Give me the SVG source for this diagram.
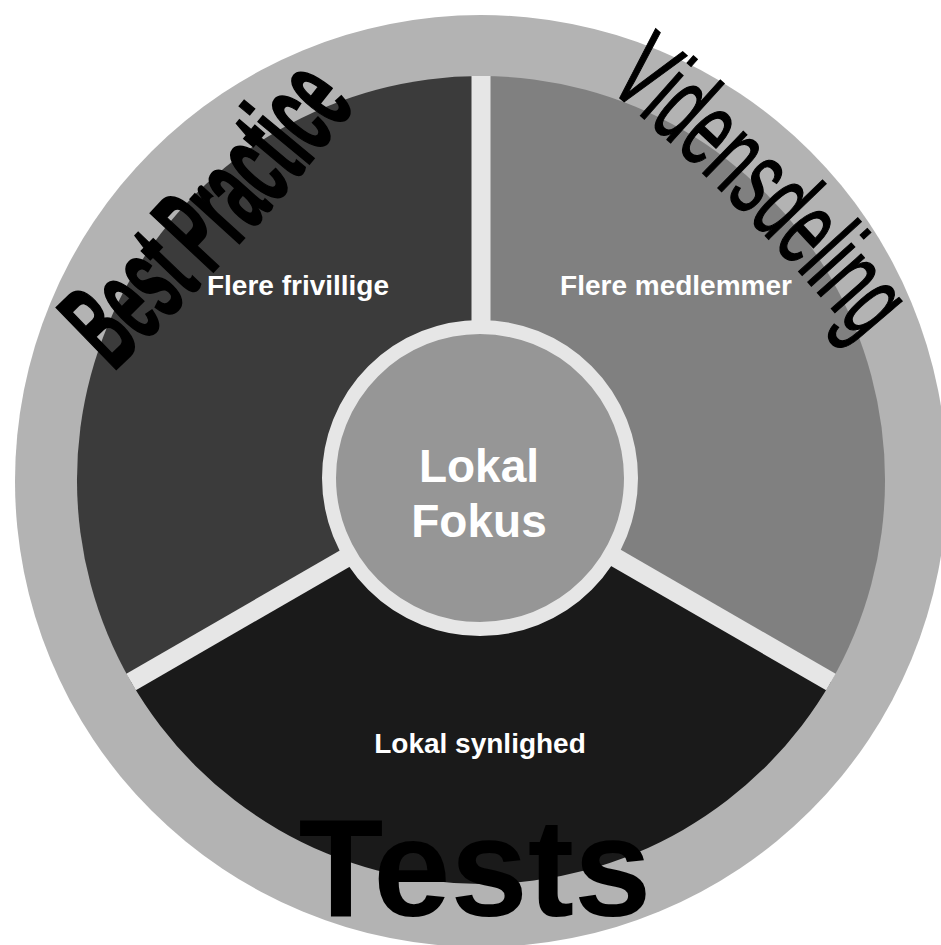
<svg xmlns="http://www.w3.org/2000/svg" width="941" height="945" viewBox="0 0 941 945">
<defs>
<style>
.lbl{font-family:"Liberation Sans",Arial,sans-serif;font-weight:bold;fill:#ffffff;text-anchor:middle}
.big{font-family:"Liberation Sans",Arial,sans-serif;fill:#000000}
.gap{stroke:#e6e6e6;stroke-width:19;fill:none}
</style>
<path id="arcBest" d="M113,372 Q252.5,239 355,106"/>
<path id="arcViden" d="M606,86 Q739.4,198 862,344"/>
</defs>
<rect width="941" height="945" fill="#ffffff"/>
<g id="ring"><circle cx="481" cy="481" r="466" fill="#b3b3b3"/></g>
<g id="sector-frivillige">
<path d="M481,480 L481,76 A404,404 0 0 0 131.1,682 Z" fill="#3b3b3b"/>
<text class="lbl" x="298" y="295" font-size="28">Flere frivillige</text>
</g>
<g id="sector-medlemmer">
<path d="M481,480 L481,76 A404,404 0 0 1 830.9,682 Z" fill="#808080"/>
<text class="lbl" x="676" y="295" font-size="28">Flere medlemmer</text>
</g>
<g id="sector-synlighed">
<path d="M481,480 L830.9,682 A404,404 0 0 1 131.1,682 Z" fill="#1a1a1a"/>
<text class="lbl" x="480" y="753" font-size="28">Lokal synlighed</text>
</g>
<g id="dividers">
<line class="gap" x1="481" y1="480" x2="481" y2="76"/>
<line class="gap" x1="481" y1="480" x2="830.9" y2="682"/>
<line class="gap" x1="481" y1="480" x2="131.1" y2="682"/>
</g>
<g id="center">
<circle cx="480" cy="478" r="151" fill="#969696" stroke="#e6e6e6" stroke-width="14"/>
<text class="lbl" x="479" y="482" font-size="46">Lokal</text>
<text class="lbl" x="479" y="537" font-size="46">Fokus</text>
</g>
<g id="title-tests">
<text class="big" x="475" y="916" font-size="139" font-weight="bold" text-anchor="middle">Tests</text>
</g>
<g id="title-best-practice">
<text class="big" font-size="124" font-weight="bold" stroke="#000000" stroke-width="2.5" word-spacing="-8"><textPath href="#arcBest" textLength="362" lengthAdjust="spacingAndGlyphs">Best Practice</textPath></text>
</g>
<g id="title-vidensdeling">
<text class="big" font-size="110" stroke="#000000" stroke-width="1.5"><textPath href="#arcViden" textLength="362" lengthAdjust="spacingAndGlyphs">Vidensdeling</textPath></text>
</g>
</svg>
